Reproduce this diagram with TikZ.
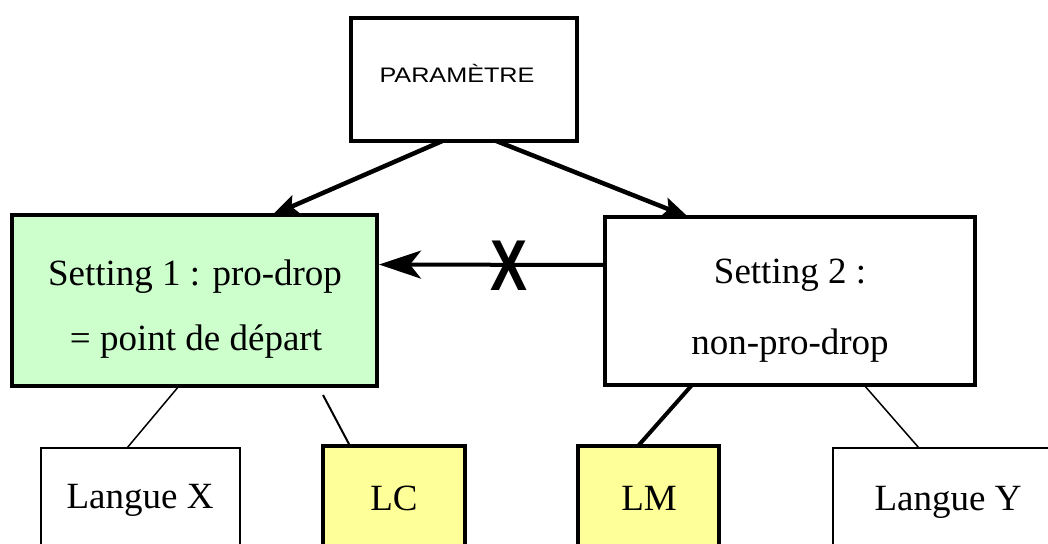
\documentclass[tikz,border=0pt]{standalone}
\usepackage{fontspec}
\setmainfont{Liberation Serif}
\newfontfamily\sansf{Liberation Sans}
\usetikzlibrary{arrows.meta,calc}
\definecolor{boxgreen}{HTML}{CCFFCC}
\definecolor{boxyellow}{HTML}{FFFF99}
\begin{document}
\begin{tikzpicture}[x=1pt,y=-1pt,
  box/.style={draw, inner sep=0pt, outer sep=0pt, anchor=north west},
  heavybox/.style={box, line width=4pt},
  lightbox/.style={box, line width=1.5pt},
  lbl/.style={anchor=base, inner sep=0pt, font=\fontsize{37pt}{44pt}\selectfont},
  arr/.style={line width=4.5pt, -{Stealth[length=26pt,width=20pt,inset=5pt]}},
  harr/.style={line width=4pt, -{Stealth[length=42pt,width=28pt,inset=11pt]}},
]
\clip (0,0) rectangle (1048,543);
\fill[white] (0,0) rectangle (1048,543);
% boxes
\node[box, line width=3.5pt, minimum width=226pt, minimum height=123pt] (p) at (351,18) {};
\node[heavybox, fill=boxgreen, minimum width=365pt, minimum height=171pt] (s1) at (12,215) {};
\node[heavybox, fill=white, minimum width=370pt, minimum height=168pt] (s2) at (605,217) {};
\node[lightbox, minimum width=199pt, minimum height=160pt] (lx) at (41,448) {};
\node[heavybox, fill=boxyellow, minimum width=142pt, minimum height=160pt] (lc) at (323,446) {};
\node[heavybox, fill=boxyellow, minimum width=141pt, minimum height=160pt] (lm) at (578,446) {};
\node[lightbox, minimum width=230pt, minimum height=160pt] (ly) at (833,448) {};
% texts
\node[anchor=base, inner sep=0pt, font=\sansf\fontsize{21pt}{24pt}\selectfont] (pt) at (457,82) {\scalebox{1.2}[1]{PARAMÈTRE}};
\node[lbl] (s1a) at (195,285) {Setting 1 : pro-drop};
\node[lbl] (s1b) at (196,350) {= point de départ};
\node[lbl] (s2a) at (790,283) {Setting 2 :};
\node[lbl] (s2b) at (790,354) {non-pro-drop};
\node[lbl] (lxt) at (140,508) {Langue X};
\node[lbl] (lct) at (394,510) {LC};
\node[lbl] (lmt) at (649,510) {LM};
\node[lbl] (lyt) at (948,510) {Langue Y};
% arrows
\draw[arr] ($(p.south west)!0.404!(p.south east)$) -- ($(s1.north west)!0.713!(s1.north east)$);
\draw[arr] ($(p.south west)!0.643!(p.south east)$) -- ($(s2.north west)!0.225!(s2.north east)$);
\draw[harr] ([yshift=36pt]s2.west) -- ([xshift=2pt,yshift=36pt]s1.east);
\node[inner sep=0pt, font=\sansf\bfseries\fontsize{72pt}{72pt}\selectfont] (xm) at (509,266) {\scalebox{0.77}[1]{X}};
% links to languages
\draw[line width=1.5pt] ([xshift=167pt]s1.south west) -- ([xshift=86pt]lx.north west);
\draw[line width=2pt] ([xshift=311pt,yshift=-9pt]s1.south west) -- ([xshift=27pt]lc.north west);
\draw[line width=4pt] ([xshift=87pt]s2.south west) -- ([xshift=60pt]lm.north west);
\draw[line width=1.5pt] ([xshift=259pt]s2.south west) -- ([xshift=86pt]ly.north west);
\end{tikzpicture}
\end{document}
